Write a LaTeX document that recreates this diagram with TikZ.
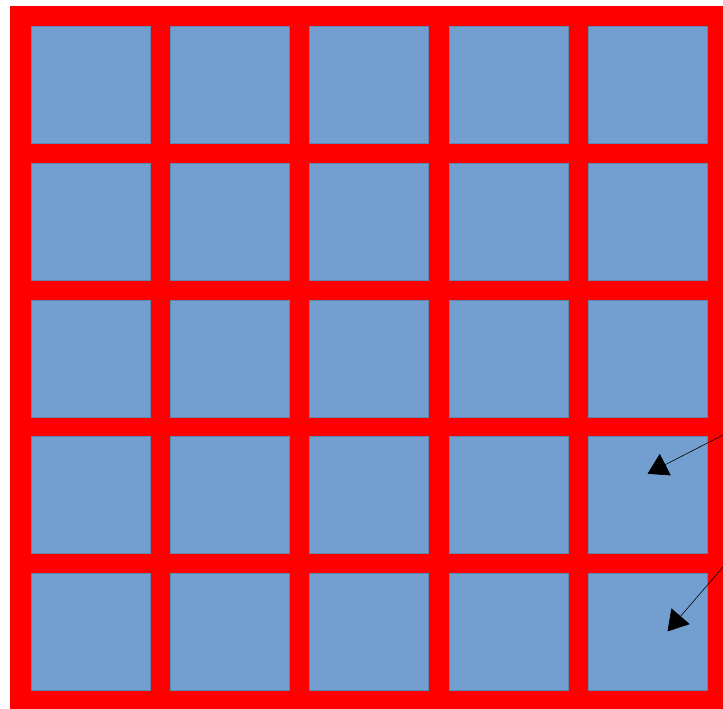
\documentclass[tikz,border=0pt]{standalone}
\usetikzlibrary{arrows.meta,calc}
\definecolor{gridred}{RGB}{255,0,0}
\definecolor{cellblue}{RGB}{114,159,207}
\begin{document}
\begin{tikzpicture}[x=0.03cm,y=-0.03cm,
	cell/.style={fill=cellblue,draw=cellblue!85!black,line width=0.3pt,
		minimum width=3.57cm,minimum height=3.51cm,inner sep=0pt,outer sep=0pt},
	pointer/.style={-{Triangle[length=0.6cm,width=0.72cm]},line width=0.5pt,black}]
			\useasboundingbox (0,0) rectangle (723,709);
			\fill[gridred] (10,6) rectangle (723,709);
			% 5x5 o vuong
			\foreach \r in {1,...,5}
				\foreach \c in {1,...,5}
					\node[cell] (c\r\c) at ({90.5+139.25*(\c-1)},{85+136.6*(\r-1)}) {};
			\coordinate (p1) at (723,435);
			\coordinate (p2) at (723,567);
			\draw[pointer] (p1) -- ($(c45.center)+(0,-21)$);
			\draw[pointer] (p2) -- ($(c55.center)+(20,0)$);
\end{tikzpicture}
\end{document}
